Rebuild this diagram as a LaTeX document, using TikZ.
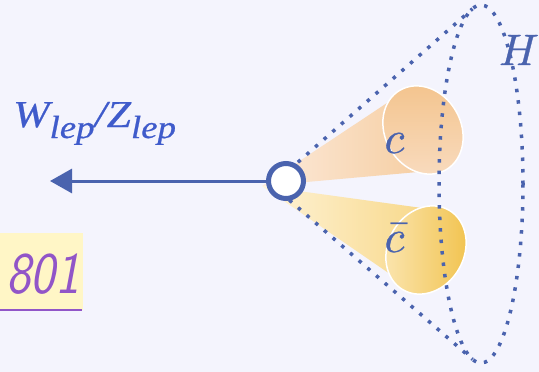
\documentclass[tikz,border=0pt]{standalone}
\usepackage{fontspec}
\usepackage{unicode-math}
\setmathfont{Latin Modern Math}[FakeBold=0.7]
\newfontfamily\wzfont{Liberation Serif}[ItalicFeatures={FakeBold=0.6}]
\usepackage{graphicx}
\usetikzlibrary{arrows.meta}
\definecolor{bg}{HTML}{F4F4FD}
\definecolor{fblue}{HTML}{4A63AE}
\definecolor{tblue}{HTML}{3F5BCB}
\definecolor{purp}{HTML}{9155C8}
\definecolor{ylw}{HTML}{FFF6C6}
\definecolor{ucA}{HTML}{FCEADB}
\definecolor{ucB}{HTML}{F6CFA4}
\definecolor{ueA}{HTML}{F3C38C}
\definecolor{ueB}{HTML}{F9DCC0}
\definecolor{lcA}{HTML}{FEF3D8}
\definecolor{lcB}{HTML}{F8D98C}
\definecolor{leA}{HTML}{FBE6B2}
\definecolor{leB}{HTML}{F1C24C}
\newcommand{\lepsub}{\raisebox{-11pt}{\fontsize{32}{32}\selectfont lep}}
\begin{document}
\begin{tikzpicture}[x=1pt,y=-1pt,
  dots/.style={draw=fblue, line width=3.5pt, dash pattern=on 3.5pt off 8pt},
  lbl/.style={text=fblue, inner sep=0pt, font=\fontsize{46}{46}\selectfont},
  vtx/.style={circle, draw=fblue, fill=white, line width=5pt, minimum size=35pt, inner sep=0pt},
  arrowline/.style={draw=fblue, line width=3pt, -{Triangle[length=22pt,width=24pt]}},
  jetedge/.style={draw=white, line width=1.5pt}]
\fill[bg] (0,0) rectangle (539,372);
\useasboundingbox (0,0) rectangle (539,372);
% highlighted number
\fill[ylw] (0,233) rectangle (83,310);
\node[anchor=base east, text=purp, inner sep=0pt, font=\fontsize{59}{59}\selectfont\sffamily\itshape] (num) at (80,293) {\scalebox{0.88}[1]{801}};
\draw[purp, line width=2pt] (0,309.5) -- (82,309.5);
% cones
\shade[left color=ucA, right color=ucB] (262,186) -- (387,103) -- (418,172) -- cycle;
\shade[left color=lcA, right color=lcB] (262,186) -- (422,208) -- (390,274) -- cycle;
\shadedraw[top color=ueA, bottom color=ueB, jetedge, rotate around={30:(423,130)}] (423,130) ellipse [x radius=38pt, y radius=46pt];
\shadedraw[left color=leA, right color=leB, jetedge, rotate around={-30:(426,250)}] (426,250) ellipse [x radius=38pt, y radius=46pt];
% Higgs dotted cone
\coordinate (apex) at (272,185);
\coordinate (tu) at (472.5,8.8);
\coordinate (tl) at (472.6,359.4);
\draw[dots] (apex) -- (tu);
\draw[dots] (apex) -- (tl);
\draw[dots] (481,184) ellipse [x radius=42pt, y radius=179pt];
% vertex and arrow
\node[vtx] (v) at (286,181) {};
\coordinate (tip) at (50,181);
\draw[arrowline] (v.west) -- (tip);
% labels
\node[lbl, anchor=base] (c1) at (395,153) {$c$};
\node[lbl, anchor=base] (c2) at (395,252) {$\bar{c}$};
\node[lbl, anchor=base, font=\fontsize{44}{44}\selectfont] (h) at (519,65) {$H$};
\node[anchor=base west, text=tblue, inner sep=0pt] (wz) at (13,127) {\scalebox{1.15}[1]{\fontsize{38}{38}\selectfont\wzfont\itshape W\lepsub/Z\lepsub}};
\end{tikzpicture}
\end{document}
